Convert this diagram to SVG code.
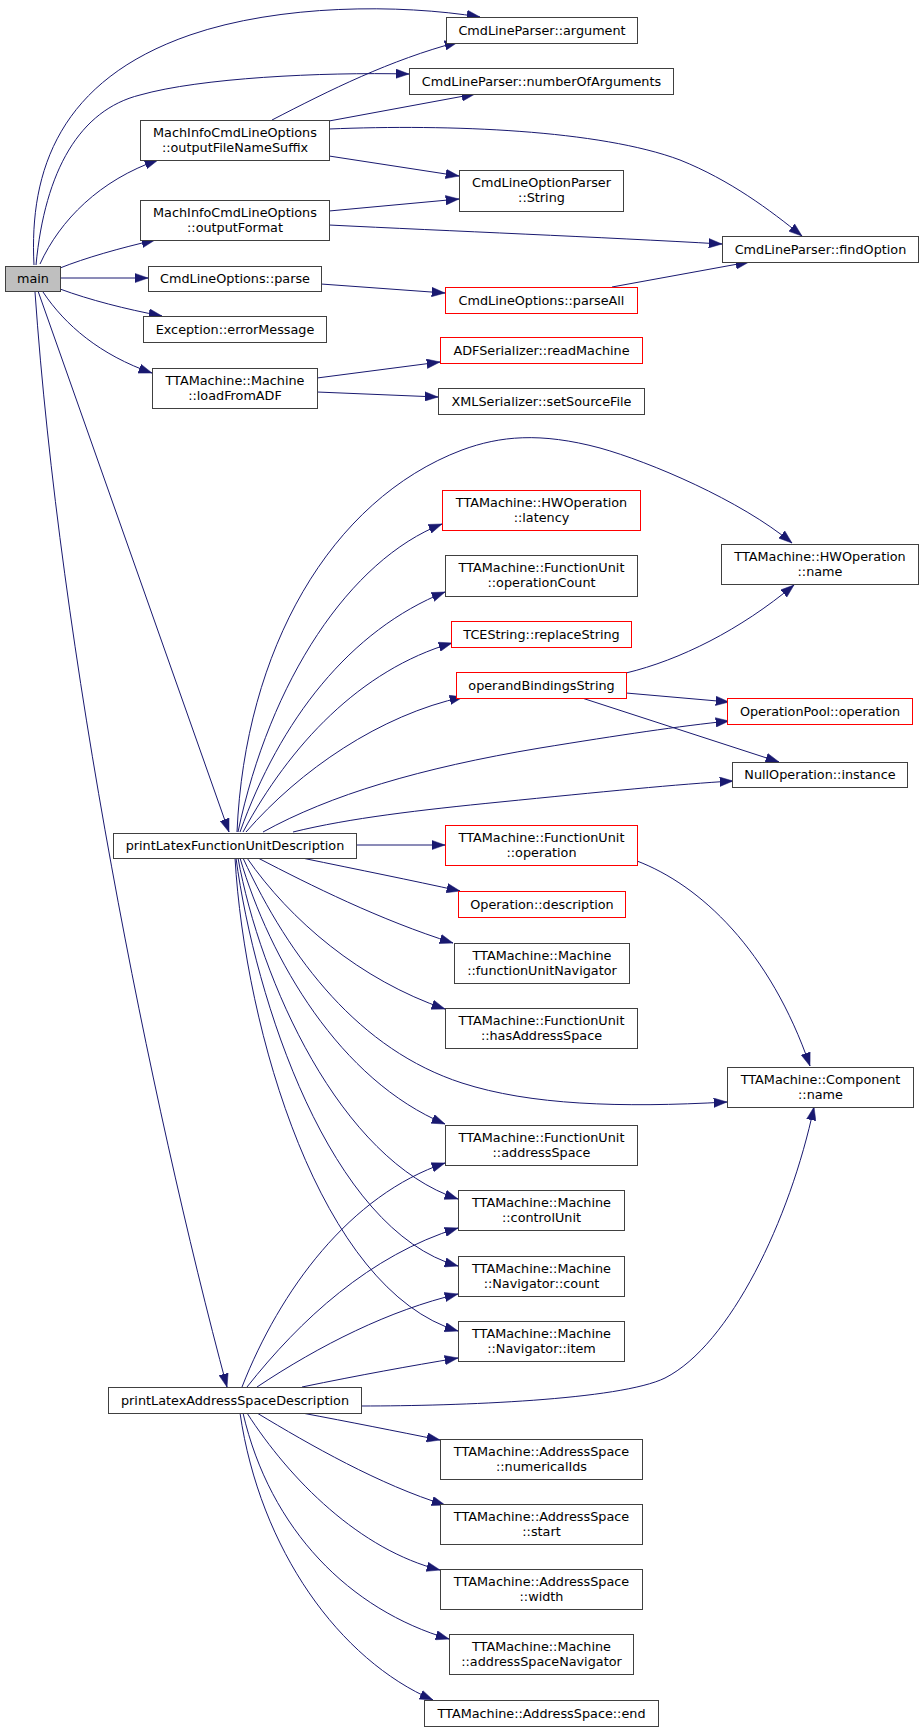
<svg xmlns="http://www.w3.org/2000/svg" width="924" height="1732" viewBox="0 0 924 1732">
<style>
.n rect{fill:#ffffff;stroke:#404040;stroke-width:1}
.r rect{fill:#ffffff;stroke:#ff0000;stroke-width:1}
.g rect{fill:#bfbfbf;stroke:#404040;stroke-width:1}
text{font-family:"DejaVu Sans",sans-serif;font-size:12.8px;fill:#000;text-anchor:middle}
#edges path{fill:none;stroke:#191970;stroke-width:1;marker-end:url(#ah)}
</style>
<defs>
<marker id="ah" markerUnits="userSpaceOnUse" markerWidth="14" markerHeight="10" refX="13.3" refY="4.7" orient="auto" viewBox="0 0 14 9.4">
<path d="M0,0 L13.3,4.7 L0,9.4 z" fill="#191970" stroke="#191970" stroke-width="0.5"/>
</marker>
</defs>
<rect x="0" y="0" width="924" height="1732" fill="#ffffff"/>
<g id="edges">
<path d="M34,265 C29,170 60,80 190,35 C280,4 400,4 480,17"/>
<path d="M36,265 C45,170 80,110 140,95 C200,78 320,72 409,74"/>
<path d="M40,264 C60,220 100,180 158,160"/>
<path d="M60,268 C85,258 120,248 155,240"/>
<path d="M60,278 L148,278"/>
<path d="M60,289 C90,300 125,309 162,316"/>
<path d="M43,292 C65,325 100,355 152,373"/>
<path d="M38,291 L229,832"/>
<path d="M35,292 C60,650 150,1100 227,1387"/>
<path d="M272,120 C330,90 390,60 458,42"/>
<path d="M329,121 L475,94"/>
<path d="M329,129 C450,124 600,130 680,160 C730,180 770,210 802,236"/>
<path d="M329,156 L459,176"/>
<path d="M329,211 L459,199"/>
<path d="M329,225 C450,231 600,237 722,244"/>
<path d="M321,284 L445,293"/>
<path d="M612,287 L749,262"/>
<path d="M317,378 L440,362"/>
<path d="M317,392 L438,397"/>
<path d="M237,832 C245,650 330,500 462,450 C500,436 540,432 600,448 C650,462 740,500 792,543"/>
<path d="M238,832 C270,680 350,560 442,524"/>
<path d="M240,832 C280,720 350,630 445,592"/>
<path d="M243,832 C290,745 360,670 452,643"/>
<path d="M246,832 C300,770 380,715 463,697"/>
<path d="M263,832 C330,795 420,768 540,748 C620,735 680,726 729,721"/>
<path d="M293,832 C350,818 420,810 500,802 C600,792 680,784 733,781"/>
<path d="M356,845 L445,845"/>
<path d="M302,858 C360,870 410,880 460,891"/>
<path d="M258,858 C310,885 380,920 453,943"/>
<path d="M247,858 C290,920 360,980 445,1009"/>
<path d="M243,858 C290,960 360,1050 462,1083 C530,1105 620,1108 727,1102"/>
<path d="M240,858 C270,960 340,1080 445,1124"/>
<path d="M238,858 C260,980 340,1160 458,1199"/>
<path d="M236,858 C255,1000 330,1230 458,1266"/>
<path d="M235,858 C245,1030 320,1290 458,1331"/>
<path d="M242,1387 C280,1290 350,1195 445,1163"/>
<path d="M247,1387 C300,1320 370,1255 458,1228"/>
<path d="M257,1387 C320,1345 390,1310 458,1294"/>
<path d="M302,1387 C360,1375 410,1366 458,1358"/>
<path d="M361,1406 C460,1406 620,1400 665,1378 C730,1345 790,1220 814,1107"/>
<path d="M302,1413 C350,1422 395,1431 440,1440"/>
<path d="M257,1413 C310,1445 380,1485 445,1505"/>
<path d="M247,1413 C290,1480 360,1550 440,1570"/>
<path d="M243,1413 C270,1530 350,1610 449,1639"/>
<path d="M240,1413 C260,1550 340,1660 433,1700"/>
<path d="M626,673 C680,660 740,630 794,585"/>
<path d="M626,693 L729,702"/>
<path d="M582,698 L779,762"/>
<path d="M637,861 C700,885 770,950 810,1066"/>
</g>
<g id="nodes" transform="translate(0.5,0.5)">
<g id="main" class="g"><rect x="5" y="266" width="55" height="25"/><text x="32.5" y="282">main</text></g>
<g id="argument" class="n"><rect x="446" y="17" width="191" height="26"/><text x="541.5" y="34">CmdLineParser::argument</text></g>
<g id="numberOfArguments" class="n"><rect x="409" y="68" width="264" height="26"/><text x="541" y="85">CmdLineParser::numberOfArguments</text></g>
<g id="outputFileNameSuffix" class="n"><rect x="140" y="120" width="189" height="40"/><text x="234.5" y="136.5">MachInfoCmdLineOptions</text><text x="234.5" y="151">::outputFileNameSuffix</text></g>
<g id="String" class="n"><rect x="459" y="170" width="164" height="41"/><text x="541" y="186.5">CmdLineOptionParser</text><text x="541" y="201">::String</text></g>
<g id="outputFormat" class="n"><rect x="140" y="200" width="189" height="40"/><text x="234.5" y="216.5">MachInfoCmdLineOptions</text><text x="234.5" y="231">::outputFormat</text></g>
<g id="findOption" class="n"><rect x="722" y="236" width="196" height="26"/><text x="820" y="253">CmdLineParser::findOption</text></g>
<g id="parse" class="n"><rect x="148" y="266" width="173" height="25"/><text x="234.5" y="282">CmdLineOptions::parse</text></g>
<g id="parseAll" class="r"><rect x="445" y="287" width="192" height="26"/><text x="541" y="304">CmdLineOptions::parseAll</text></g>
<g id="errorMessage" class="n"><rect x="143" y="316" width="183" height="26"/><text x="234.5" y="333">Exception::errorMessage</text></g>
<g id="loadFromADF" class="n"><rect x="152" y="368" width="165" height="40"/><text x="234.5" y="384.5">TTAMachine::Machine</text><text x="234.5" y="399">::loadFromADF</text></g>
<g id="readMachine" class="r"><rect x="440" y="337" width="202" height="26"/><text x="541" y="354">ADFSerializer::readMachine</text></g>
<g id="setSourceFile" class="n"><rect x="438" y="388" width="206" height="26"/><text x="541" y="405">XMLSerializer::setSourceFile</text></g>
<g id="latency" class="r"><rect x="442" y="490" width="198" height="40"/><text x="541" y="506.5">TTAMachine::HWOperation</text><text x="541" y="521">::latency</text></g>
<g id="hwname" class="n"><rect x="721" y="544" width="197" height="40"/><text x="819.5" y="560.5">TTAMachine::HWOperation</text><text x="819.5" y="575">::name</text></g>
<g id="operationCount" class="n"><rect x="445" y="555" width="192" height="41"/><text x="541" y="571.5">TTAMachine::FunctionUnit</text><text x="541" y="586">::operationCount</text></g>
<g id="replaceString" class="r"><rect x="451" y="621" width="180" height="26"/><text x="541" y="638">TCEString::replaceString</text></g>
<g id="operandBindingsString" class="r"><rect x="456" y="672" width="170" height="26"/><text x="541" y="689">operandBindingsString</text></g>
<g id="poolOperation" class="r"><rect x="727" y="698" width="185" height="26"/><text x="819.5" y="715">OperationPool::operation</text></g>
<g id="instance" class="n"><rect x="732" y="762" width="175" height="25"/><text x="819.5" y="778.5">NullOperation::instance</text></g>
<g id="printLatexFunctionUnitDescription" class="n"><rect x="113" y="833" width="243" height="25"/><text x="234.5" y="849.5">printLatexFunctionUnitDescription</text></g>
<g id="fuOperation" class="r"><rect x="445" y="825" width="192" height="40"/><text x="541" y="841.5">TTAMachine::FunctionUnit</text><text x="541" y="856">::operation</text></g>
<g id="description" class="r"><rect x="458" y="891" width="167" height="26"/><text x="541.5" y="908">Operation::description</text></g>
<g id="functionUnitNavigator" class="n"><rect x="454" y="943" width="175" height="40"/><text x="541.5" y="959.5">TTAMachine::Machine</text><text x="541.5" y="974">::functionUnitNavigator</text></g>
<g id="hasAddressSpace" class="n"><rect x="445" y="1008" width="192" height="40"/><text x="541" y="1024.5">TTAMachine::FunctionUnit</text><text x="541" y="1039">::hasAddressSpace</text></g>
<g id="componentName" class="n"><rect x="727" y="1067" width="186" height="40"/><text x="820" y="1083.5">TTAMachine::Component</text><text x="820" y="1098">::name</text></g>
<g id="addressSpace" class="n"><rect x="445" y="1125" width="192" height="40"/><text x="541" y="1141.5">TTAMachine::FunctionUnit</text><text x="541" y="1156">::addressSpace</text></g>
<g id="controlUnit" class="n"><rect x="458" y="1190" width="166" height="40"/><text x="541" y="1206.5">TTAMachine::Machine</text><text x="541" y="1221">::controlUnit</text></g>
<g id="count" class="n"><rect x="458" y="1256" width="166" height="40"/><text x="541" y="1272.5">TTAMachine::Machine</text><text x="541" y="1287">::Navigator::count</text></g>
<g id="item" class="n"><rect x="458" y="1321" width="166" height="40"/><text x="541" y="1337.5">TTAMachine::Machine</text><text x="541" y="1352">::Navigator::item</text></g>
<g id="printLatexAddressSpaceDescription" class="n"><rect x="108" y="1387" width="253" height="26"/><text x="234.5" y="1404">printLatexAddressSpaceDescription</text></g>
<g id="numericalIds" class="n"><rect x="440" y="1439" width="202" height="40"/><text x="541" y="1455.5">TTAMachine::AddressSpace</text><text x="541" y="1470">::numericalIds</text></g>
<g id="start" class="n"><rect x="440" y="1504" width="202" height="40"/><text x="541" y="1520.5">TTAMachine::AddressSpace</text><text x="541" y="1535">::start</text></g>
<g id="width" class="n"><rect x="440" y="1569" width="202" height="40"/><text x="541" y="1585.5">TTAMachine::AddressSpace</text><text x="541" y="1600">::width</text></g>
<g id="addressSpaceNavigator" class="n"><rect x="449" y="1634" width="184" height="40"/><text x="541" y="1650.5">TTAMachine::Machine</text><text x="541" y="1665">::addressSpaceNavigator</text></g>
<g id="end" class="n"><rect x="424" y="1700" width="234" height="26"/><text x="541" y="1717">TTAMachine::AddressSpace::end</text></g>
</g>
</svg>
